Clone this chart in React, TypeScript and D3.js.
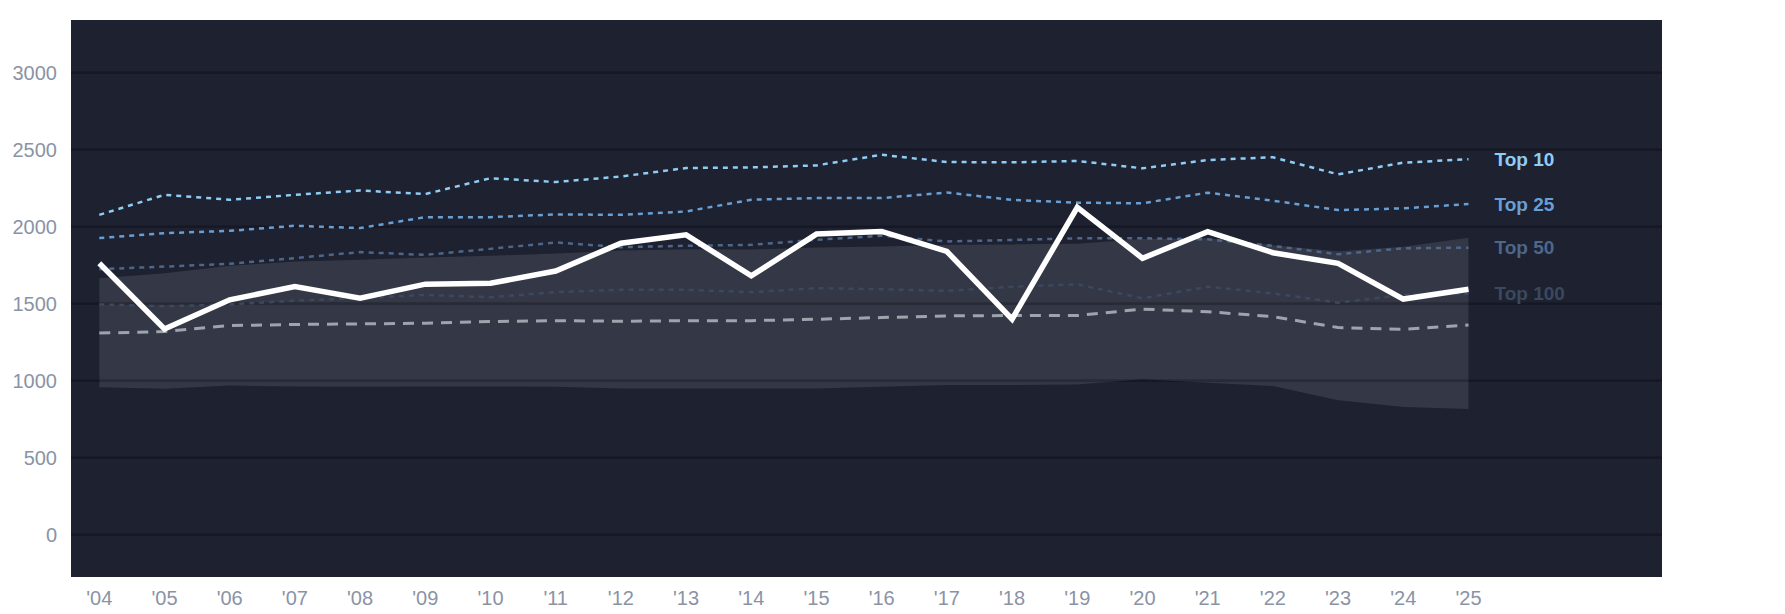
import * as d3 from "d3"

// years on the x axis
const years = ["'04", "'05", "'06", "'07", "'08", "'09", "'10", "'11", "'12", "'13", "'14", "'15", "'16", "'17", "'18", "'19", "'20", "'21", "'22", "'23", "'24", "'25"]

// main series (thick white line)
const mainSeries = [1763, 1336, 1525, 1611, 1536, 1627, 1633, 1712, 1893, 1947, 1681, 1952, 1969, 1839, 1400, 2126, 1795, 1968, 1831, 1762, 1530, 1594]

// threshold lines
const top10 = [2077, 2207, 2175, 2207, 2235, 2212, 2315, 2290, 2326, 2381, 2385, 2398, 2467, 2420, 2418, 2427, 2379, 2433, 2451, 2340, 2416, 2438]
const top25 = [1926, 1958, 1973, 2006, 1991, 2062, 2062, 2080, 2077, 2099, 2175, 2186, 2186, 2222, 2174, 2156, 2152, 2221, 2169, 2108, 2119, 2147]
const top50 = [1724, 1741, 1759, 1796, 1835, 1817, 1856, 1898, 1867, 1876, 1882, 1915, 1941, 1904, 1914, 1925, 1925, 1918, 1875, 1821, 1860, 1864]
const top100 = [1495, 1484, 1495, 1520, 1536, 1557, 1542, 1575, 1590, 1590, 1575, 1601, 1594, 1583, 1610, 1626, 1535, 1610, 1567, 1507, 1557, 1565]

// dashed grey line
const median = [1309, 1319, 1358, 1365, 1369, 1373, 1384, 1390, 1386, 1390, 1390, 1399, 1410, 1421, 1423, 1423, 1465, 1448, 1416, 1345, 1334, 1362]

// shaded band
const bandHigh = [1666, 1698, 1746, 1774, 1785, 1800, 1811, 1826, 1845, 1854, 1852, 1865, 1871, 1882, 1885, 1890, 1920, 1925, 1880, 1840, 1870, 1928]
const bandLow = [958, 947, 969, 962, 960, 962, 962, 961, 950, 950, 950, 950, 961, 972, 972, 975, 1009, 987, 966, 873, 830, 817]

const yTicks = [0, 500, 1000, 1500, 2000, 2500, 3000]

const tiers = [
  { name: "Top 10", values: top10, color: "#90cdf4" },
  { name: "Top 25", values: top25, color: "#6a9fd4" },
  { name: "Top 50", values: top50, color: "#4e6688" },
  { name: "Top 100", values: top100, color: "#3b485e" },
]

const W = 1785
const H = 614
const plot = { left: 71, top: 20, right: 1662, bottom: 577 }
const font = "'Liberation Sans', Arial, sans-serif"

export default function App() {
  const x = d3.scaleLinear().domain([0, years.length - 1]).range([99.3, 1468.5])
  const y = d3.scaleLinear().domain([0, 3000]).range([534.7, 72.7])

  const line = d3
    .line<number>()
    .x((_, i) => x(i))
    .y((d) => y(d))

  const band = d3
    .area<number>()
    .x((_, i) => x(i))
    .y0((_, i) => y(bandLow[i]))
    .y1((d) => y(d))

  const last = years.length - 1

  return (
    <svg width={W} height={H} style={{ position: "absolute", left: 0, top: 0, background: "#fff" }}>
      <rect x={plot.left} y={plot.top} width={plot.right - plot.left} height={plot.bottom - plot.top} fill="#1d2130" />

      {/* band */}
      <path d={band(bandHigh) || ""} fill="#ffffff" fillOpacity={0.1} />

      {/* grid */}
      {yTicks.map((t) => (
        <line key={t} x1={plot.left} x2={plot.right} y1={y(t)} y2={y(t)} stroke="#000" strokeOpacity={0.22} strokeWidth={2.7} />
      ))}

      {/* y labels */}
      {yTicks.map((t) => (
        <text key={t} x={57} y={y(t)} textAnchor="end" dominantBaseline="central" fontSize={20} fill="#8a93a6" fontFamily={font}>
          {t}
        </text>
      ))}

      {/* x labels */}
      {years.map((yr, i) => (
        <text key={yr} x={x(i)} y={605} textAnchor="middle" fontSize={20} fill="#8a93a6" fontFamily={font}>
          {yr}
        </text>
      ))}

      {/* tiers, drawn from faint to bright */}
      {[...tiers].reverse().map((t) => (
        <path key={t.name} d={line(t.values) || ""} fill="none" stroke={t.color} strokeWidth={2.5} strokeDasharray="5 5" />
      ))}

      <path d={line(median) || ""} fill="none" stroke="#9ea4ae" strokeWidth={3} strokeDasharray="11 8" />

      <path d={line(mainSeries) || ""} fill="none" stroke="#fff" strokeWidth={5.5} strokeLinejoin="miter" />

      {tiers.map((t) => (
        <text key={t.name} x={x(last) + 26} y={y(t.values[last])} dominantBaseline="central" fontSize={19} fontWeight="bold" fill={t.color} fontFamily={font}>
          {t.name}
        </text>
      ))}
    </svg>
  )
}
